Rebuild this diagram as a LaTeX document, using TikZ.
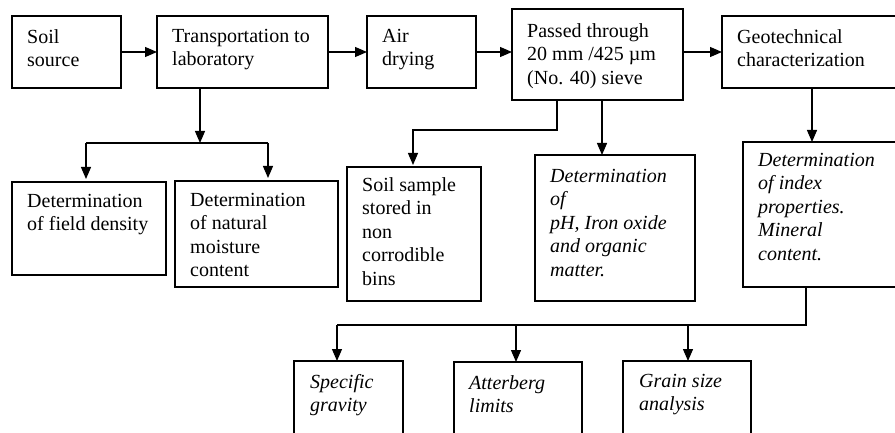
\documentclass[tikz,border=0pt]{standalone}
\usepackage{fontspec}
\setmainfont{Liberation Serif}
\usetikzlibrary{arrows.meta}
\begin{document}
\begin{tikzpicture}[x=1pt,y=-1pt,
  box/.style={draw=black,line width=1.3pt,rectangle,anchor=north west,inner sep=0pt,outer sep=0pt},
  txt/.style={anchor=north west,inner sep=0pt,align=left,font=\fontsize{20}{23.5}\selectfont},
  itxt/.style={txt,font=\fontsize{20}{23.5}\selectfont\itshape},
  conn/.style={line width=1.3pt,draw=black},
  arr/.style={conn,-{Triangle[length=12pt,width=10pt]}}]
\useasboundingbox (0,0) rectangle (895,433);
\clip (0,0) rectangle (895,433);
% boxes
\node[box,minimum width=109,minimum height=72] (src) at (12,16) {};
\node[box,minimum width=171,minimum height=72] (trans) at (157,16) {};
\node[box,minimum width=109,minimum height=72] (air) at (367,16) {};
\node[box,minimum width=171,minimum height=91] (pass) at (512,9) {};
\node[box,minimum width=200,minimum height=72] (geo) at (722,16) {};
\node[box,minimum width=154,minimum height=93] (field) at (12,182) {};
\node[box,minimum width=163,minimum height=106] (moist) at (175,181) {};
\node[box,minimum width=134,minimum height=134] (store) at (347,167) {};
\node[box,minimum width=160,minimum height=146] (ph) at (535,155) {};
\node[box,minimum width=180,minimum height=145] (index) at (743,142) {};
\node[box,minimum width=109,minimum height=90] (sg) at (294,361) {};
\node[box,minimum width=128,minimum height=90] (att) at (454,362) {};
\node[box,minimum width=128,minimum height=90] (grain) at (623,361) {};
% texts
\node[txt] (tsrc) at (27,29) {Soil\\source};
\node[txt] (ttrans) at (172,29) {Transportation to\\laboratory};
\node[txt] (tair) at (382,29) {Air\\drying};
\node[txt] (tpass) at (527,23) {Passed through\\20 mm /425 µm\\(No. 40) sieve};
\node[txt] (tgeo) at (737,29) {Geotechnical\\characterization};
\node[txt] (tfield) at (27,194) {Determination\\of field density};
\node[txt] (tmoist) at (190,193) {Determination\\of natural\\moisture\\content};
\node[txt] (tstore) at (362,177) {Soil sample\\stored in\\non\\corrodible\\bins};
\node[itxt] (tph) at (550,169) {Determination\\of\\pH, Iron oxide\\and organic\\matter.};
\node[itxt] (tindex) at (758,153) {Determination\\of index\\properties.\\Mineral\\content.};
\node[itxt] (tsg) at (310,374) {Specific\\gravity};
\node[itxt] (tatt) at (469,375) {Atterberg\\limits};
\node[itxt] (tgrain) at (639,374) {Grain size\\analysis};
% junction coordinates
\coordinate (j1) at (200,143);
\coordinate (j1l) at (86,143);
\coordinate (j1r) at (268,143);
\coordinate (j2) at (557,130);
\coordinate (j2l) at (413,130);
\coordinate (j3) at (602,130);
\coordinate (j4) at (812,130);
\coordinate (j5) at (806,325);
\coordinate (j5a) at (337,325);
\coordinate (j5b) at (516,325);
\coordinate (j5c) at (688,325);
% connectors
\draw[arr] (src.east) -- (trans.west);
\draw[arr] (trans.east) -- (air.west);
\draw[arr] (air.east) -- (air.east -| pass.west);
\draw[arr] (geo.west -| pass.east) -- (geo.west);
\draw[arr] (trans.south -| j1) -- (j1);
\draw[conn] (j1l) -- (j1r);
\draw[arr,shorten >=3pt] (j1l) -- (j1l |- field.north);
\draw[arr,shorten >=3pt] (j1r) -- (j1r |- moist.north);
\draw[arr,shorten >=2pt] (pass.south -| j2) -- (j2) -- (j2l) -- (j2l |- store.north);
\draw[arr] (pass.south -| j3) -- (j3 |- ph.north);
\draw[arr] (geo.south -| j4) -- (j4 |- index.north);
\draw[conn] (index.south -| j5) -- (j5) -- (j5a);
\draw[arr] (j5a) -- (j5a |- sg.north);
\draw[arr] (j5b) -- (j5b |- att.north);
\draw[arr] (j5c) -- (j5c |- grain.north);
\end{tikzpicture}
\end{document}
